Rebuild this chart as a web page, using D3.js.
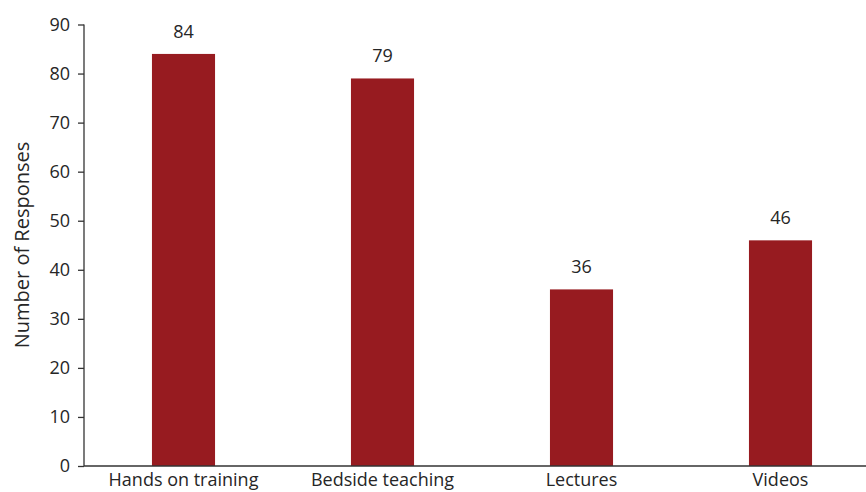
<!DOCTYPE html>
<html><head><meta charset="utf-8">
<script src="https://cdn.jsdelivr.net/npm/d3@7"></script>
<style>body{margin:0;background:#fff}svg{display:block}text{font-family:"Open Sans","Liberation Sans",sans-serif;fill:#262626}</style>
</head><body><svg id="c" width="866" height="492"></svg>
<script>
const categories = ["Hands on training","Bedside teaching","Lectures","Videos"];
const values = [84,79,36,46];
const yTicks = [0,10,20,30,40,50,60,70,80,90];

const svg = d3.select("#c");
const x0 = 84, y0 = 466, yTop = 24.5;
const x = d3.scaleBand().domain(categories).range([x0, 880]).paddingInner(0.683).paddingOuter(0.3415);
const y = d3.scaleLinear().domain([0,90]).range([y0, yTop]);
const FF = '"Open Sans","Liberation Sans",sans-serif';

svg.selectAll("rect.bar").data(values).join("rect")
  .attr("class","bar")
  .attr("x",(d,i)=>x(categories[i]))
  .attr("width",x.bandwidth())
  .attr("y",d=>y(d))
  .attr("height",d=>y0-y(d))
  .attr("fill","#971B20");

svg.selectAll("text.val").data(values).join("text")
  .attr("class","val")
  .attr("x",(d,i)=>x(categories[i])+x.bandwidth()/2)
  .attr("y",d=>y(d)-16)
  .attr("text-anchor","middle")
  .attr("font-size",18)
  .text(d=>d);

const yAxis = svg.append("g").attr("transform",`translate(${x0},0)`)
  .call(d3.axisLeft(y).tickValues(yTicks).tickSize(6).tickPadding(8));
yAxis.select(".domain").attr("stroke","#333").attr("stroke-width",1.3).attr("d",`M0,${y0}V${yTop}`);
yAxis.selectAll(".tick line").attr("stroke","#333").attr("stroke-width",1.3);
yAxis.selectAll(".tick text").attr("font-size",18).attr("fill","#262626").style("font-family",FF);

const xAxis = svg.append("g").attr("transform",`translate(0,${y0})`)
  .call(d3.axisBottom(x).tickSize(0).tickPadding(7));
xAxis.select(".domain").attr("stroke","#333").attr("stroke-width",1.3).attr("d",`M${x0},0H866`);
xAxis.selectAll(".tick text").attr("font-size",18).attr("fill","#262626").style("font-family",FF);

svg.append("text")
  .attr("transform","translate(29,245) rotate(-90)")
  .attr("text-anchor","middle")
  .attr("font-size",20)
  .text("Number of Responses");
</script></body></html>
